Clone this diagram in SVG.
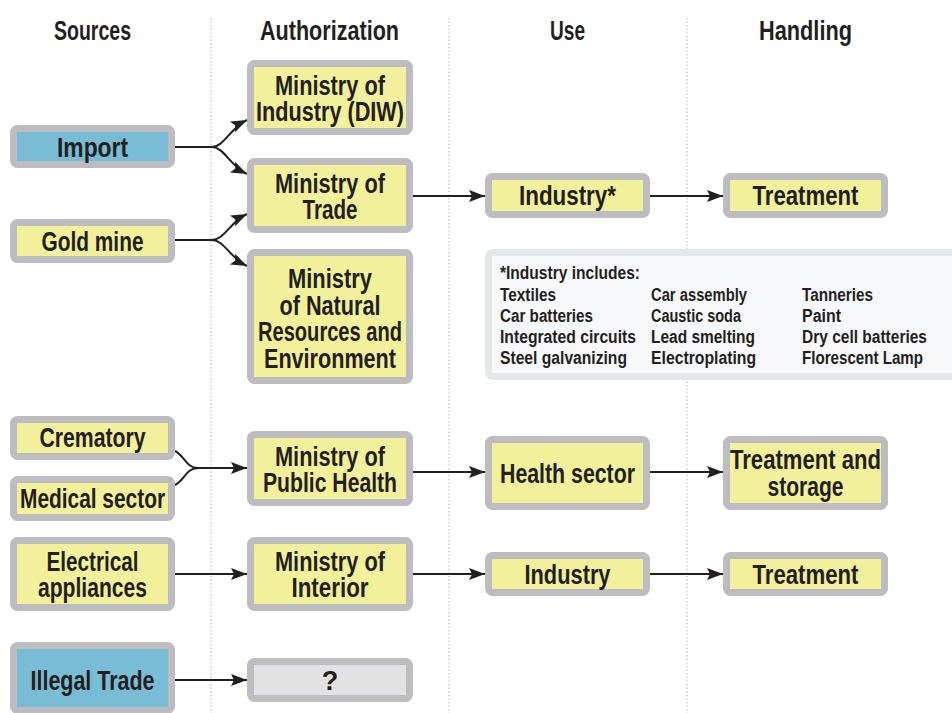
<svg xmlns="http://www.w3.org/2000/svg" width="952" height="713" viewBox="0 0 952 713">
<style>
.t{font-family:"Liberation Sans Narrow","Liberation Sans","DejaVu Sans Condensed",sans-serif;font-weight:bold;fill:#231f20;text-anchor:middle;font-size:27px}
.s{font-family:"Liberation Sans Narrow","Liberation Sans","DejaVu Sans Condensed",sans-serif;font-weight:bold;fill:#231f20;font-size:18px}
.y{fill:#f3f09b;stroke:#bdbdc1;stroke-width:7}
.b{fill:#78bdd5;stroke:#bdbdc1;stroke-width:7}
.g{fill:#e2e2e2;stroke:#bdbdc1;stroke-width:7}
.div{stroke:#a9b8c4;stroke-width:1.2;stroke-dasharray:1.2 2.4;fill:none}
.c{fill:none;stroke:#231f20;stroke-width:2;marker-end:url(#ah)}
.cn{fill:none;stroke:#231f20;stroke-width:2}
</style>
<defs>
<marker id="ah" markerUnits="userSpaceOnUse" markerWidth="16" markerHeight="12" refX="16" refY="6" orient="auto">
<path d="M0,0 L16,6 L0,12 L3,6 Z" fill="#231f20"/>
</marker>
</defs>
<rect width="952" height="713" fill="#fff"/>
<g id="dividers">
<line class="div" x1="211" y1="18" x2="211" y2="713"/>
<line class="div" x1="449" y1="18" x2="449" y2="713"/>
<line class="div" x1="687" y1="18" x2="687" y2="713"/>
</g>
<g id="headers">
<text class="t" x="92.5" y="40" textLength="77" lengthAdjust="spacingAndGlyphs">Sources</text>
<text class="t" x="329.5" y="40" textLength="139" lengthAdjust="spacingAndGlyphs">Authorization</text>
<text class="t" x="567.5" y="40" textLength="35" lengthAdjust="spacingAndGlyphs">Use</text>
<text class="t" x="805.5" y="40" textLength="93" lengthAdjust="spacingAndGlyphs">Handling</text>
</g>
<g id="connectors">
<path class="cn" d="M175,147 L212,147"/>
<path class="c" d="M212,147 C224,147 230,128 247,120"/>
<path class="c" d="M212,147 C224,147 230,166 247,174"/>
<path class="cn" d="M175,240 L212,240"/>
<path class="c" d="M212,240 C224,240 230,222 247,214"/>
<path class="c" d="M212,240 C224,240 230,258 247,266"/>
<path class="cn" d="M175,451 C184,455 186,468 198,468"/>
<path class="cn" d="M175,485 C184,481 186,468 198,468"/>
<path class="c" d="M197,468 L247,468"/>
<path class="c" d="M413,196 H485"/>
<path class="c" d="M650,196 H723"/>
<path class="c" d="M413,472 H485"/>
<path class="c" d="M650,472 H723"/>
<path class="c" d="M175,574 H247"/>
<path class="c" d="M413,574 H485"/>
<path class="c" d="M650,574 H723"/>
<path class="c" d="M175,680 H247"/>
</g>
<g id="import"><rect class="b" x="13.5" y="128.5" width="158" height="36" rx="4"/>
<text class="t" x="92.5" y="157" textLength="71" lengthAdjust="spacingAndGlyphs">Import</text></g>
<g id="goldmine"><rect class="y" x="13.5" y="222.5" width="158" height="37" rx="4"/>
<text class="t" x="92.5" y="251" textLength="102" lengthAdjust="spacingAndGlyphs">Gold mine</text></g>
<g id="diw"><rect class="y" x="250.5" y="63.5" width="159" height="68" rx="4"/>
<text class="t" x="330" y="95" textLength="110" lengthAdjust="spacingAndGlyphs">Ministry of</text>
<text class="t" x="330" y="121" textLength="148" lengthAdjust="spacingAndGlyphs">Industry (DIW)</text></g>
<g id="trade"><rect class="y" x="250.5" y="161.5" width="159" height="68" rx="4"/>
<text class="t" x="330" y="193" textLength="110" lengthAdjust="spacingAndGlyphs">Ministry of</text>
<text class="t" x="330" y="219" textLength="55" lengthAdjust="spacingAndGlyphs">Trade</text></g>
<g id="nre"><rect class="y" x="250.5" y="252.5" width="159" height="128" rx="4"/>
<text class="t" x="330" y="288" textLength="84" lengthAdjust="spacingAndGlyphs">Ministry</text>
<text class="t" x="330" y="315" textLength="101" lengthAdjust="spacingAndGlyphs">of Natural</text>
<text class="t" x="330" y="341" textLength="144" lengthAdjust="spacingAndGlyphs">Resources and</text>
<text class="t" x="330" y="368" textLength="132" lengthAdjust="spacingAndGlyphs">Environment</text></g>
<g id="crematory"><rect class="y" x="13.5" y="419.5" width="158" height="37" rx="4"/>
<text class="t" x="92.5" y="447" textLength="106" lengthAdjust="spacingAndGlyphs">Crematory</text></g>
<g id="medical"><rect class="y" x="13.5" y="479.5" width="158" height="38" rx="4"/>
<text class="t" x="92.5" y="508" textLength="145" lengthAdjust="spacingAndGlyphs">Medical sector</text></g>
<g id="publichealth"><rect class="y" x="250.5" y="434.5" width="159" height="68" rx="4"/>
<text class="t" x="330" y="466" textLength="110" lengthAdjust="spacingAndGlyphs">Ministry of</text>
<text class="t" x="330" y="492" textLength="134" lengthAdjust="spacingAndGlyphs">Public Health</text></g>
<g id="electrical"><rect class="y" x="13.5" y="540.5" width="158" height="67" rx="4"/>
<text class="t" x="92.5" y="571" textLength="92" lengthAdjust="spacingAndGlyphs">Electrical</text>
<text class="t" x="92.5" y="597" textLength="109" lengthAdjust="spacingAndGlyphs">appliances</text></g>
<g id="interior"><rect class="y" x="250.5" y="540.5" width="159" height="67" rx="4"/>
<text class="t" x="330" y="571" textLength="110" lengthAdjust="spacingAndGlyphs">Ministry of</text>
<text class="t" x="330" y="597" textLength="77" lengthAdjust="spacingAndGlyphs">Interior</text></g>
<g id="illegal"><rect class="b" x="13.5" y="645.5" width="158" height="65" rx="4"/>
<text class="t" x="92.5" y="690" textLength="124" lengthAdjust="spacingAndGlyphs">Illegal Trade</text></g>
<g id="unknown"><rect class="g" x="250.5" y="661.5" width="159" height="37" rx="4"/>
<text class="t" x="330" y="690">?</text></g>
<g id="industry1"><rect class="y" x="488.5" y="176.5" width="158" height="38" rx="4"/>
<text class="t" x="567.5" y="205" textLength="97" lengthAdjust="spacingAndGlyphs">Industry*</text></g>
<g id="treatment1"><rect class="y" x="726.5" y="176.5" width="158" height="38" rx="4"/>
<text class="t" x="805.5" y="205" textLength="106" lengthAdjust="spacingAndGlyphs">Treatment</text></g>
<g id="note"><rect x="488.5" y="252.5" width="480" height="124" rx="4" fill="#f7f8fa" stroke="#e4e8ea" stroke-width="7"/>
<text class="s" x="500" y="279" textLength="140" lengthAdjust="spacingAndGlyphs">*Industry includes:</text>
<text class="s" x="500" y="301" textLength="56" lengthAdjust="spacingAndGlyphs">Textiles</text>
<text class="s" x="500" y="322" textLength="93" lengthAdjust="spacingAndGlyphs">Car batteries</text>
<text class="s" x="500" y="343" textLength="136" lengthAdjust="spacingAndGlyphs">Integrated circuits</text>
<text class="s" x="500" y="364" textLength="127" lengthAdjust="spacingAndGlyphs">Steel galvanizing</text>
<text class="s" x="651" y="301" textLength="96" lengthAdjust="spacingAndGlyphs">Car assembly</text>
<text class="s" x="651" y="322" textLength="90" lengthAdjust="spacingAndGlyphs">Caustic soda</text>
<text class="s" x="651" y="343" textLength="104" lengthAdjust="spacingAndGlyphs">Lead smelting</text>
<text class="s" x="651" y="364" textLength="105" lengthAdjust="spacingAndGlyphs">Electroplating</text>
<text class="s" x="802" y="301" textLength="71" lengthAdjust="spacingAndGlyphs">Tanneries</text>
<text class="s" x="802" y="322" textLength="39" lengthAdjust="spacingAndGlyphs">Paint</text>
<text class="s" x="802" y="343" textLength="125" lengthAdjust="spacingAndGlyphs">Dry cell batteries</text>
<text class="s" x="802" y="364" textLength="121" lengthAdjust="spacingAndGlyphs">Florescent Lamp</text></g>
<g id="health"><rect class="y" x="488.5" y="439.5" width="158" height="67" rx="4"/>
<text class="t" x="567.5" y="483" textLength="135" lengthAdjust="spacingAndGlyphs">Health sector</text></g>
<g id="treatstore"><rect class="y" x="726.5" y="439.5" width="158" height="67" rx="4"/>
<text class="t" x="805.5" y="469" textLength="151" lengthAdjust="spacingAndGlyphs">Treatment and</text>
<text class="t" x="805.5" y="496" textLength="76" lengthAdjust="spacingAndGlyphs">storage</text></g>
<g id="industry2"><rect class="y" x="488.5" y="555.5" width="158" height="37" rx="4"/>
<text class="t" x="567.5" y="584" textLength="86" lengthAdjust="spacingAndGlyphs">Industry</text></g>
<g id="treatment2"><rect class="y" x="726.5" y="555.5" width="158" height="37" rx="4"/>
<text class="t" x="805.5" y="584" textLength="106" lengthAdjust="spacingAndGlyphs">Treatment</text></g>
</svg>
